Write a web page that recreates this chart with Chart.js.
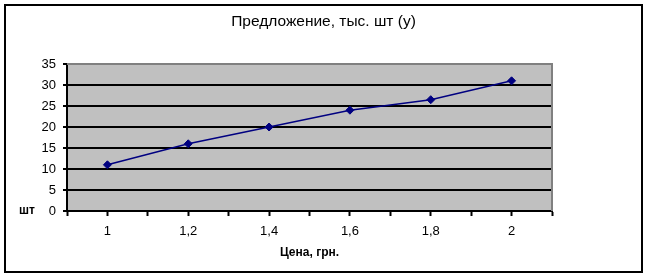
<!DOCTYPE html>
<html>
<head>
<meta charset="utf-8">
<script src="https://cdn.jsdelivr.net/npm/chart.js@4/dist/chart.umd.min.js"></script>
<style>
  html, body { margin: 0; padding: 0; background: #fff; }
  #wrap { width: 647px; height: 278px; }
</style>
</head>
<body>
<div id="wrap"><canvas id="chart" width="647" height="278"></canvas></div>
<script>
// Price (x categories) and supply values
const categories = ['1', '1,2', '1,4', '1,6', '1,8', '2']
const supply = [11, 16, 20, 24, 26.5, 31]
const yTicks = [0, 5, 10, 15, 20, 25, 30, 35]
const chartTitle = 'Предложение, тыс. шт (у)'

const FONT = "'Liberation Sans', Arial, sans-serif"

// frame around the whole chart, gray plot background, title centred on the page
const framePlugin = {
  id: 'frame',
  beforeDraw (chart) {
    const { ctx, chartArea: a } = chart
    ctx.save()
    ctx.fillStyle = '#fff'
    ctx.fillRect(0, 0, chart.width, chart.height)
    ctx.fillStyle = '#c0c0c0'
    ctx.fillRect(a.left, a.top, a.right - a.left, a.bottom - a.top)
    ctx.strokeStyle = '#000'
    ctx.lineWidth = 2
    ctx.strokeRect(5, 5, 637, 267)
    ctx.fillStyle = '#000'
    ctx.font = '15.5px ' + FONT
    ctx.textAlign = 'center'
    ctx.textBaseline = 'middle'
    ctx.fillText(chartTitle, chart.width / 2, 22)
    ctx.restore()
  },
  beforeDatasetsDraw (chart) {
    const { ctx, chartArea: a } = chart
    ctx.save()
    ctx.strokeStyle = '#808080'
    ctx.lineWidth = 2
    ctx.beginPath()
    ctx.moveTo(a.left, a.top)
    ctx.lineTo(a.right, a.top)
    ctx.lineTo(a.right, a.bottom)
    ctx.stroke()
    // leftover y-axis title squeezed near the origin
    ctx.fillStyle = '#000'
    ctx.font = 'bold 12px ' + FONT
    ctx.textBaseline = 'middle'
    ctx.fillText('шт', 19, a.bottom)
    ctx.restore()
  }
}

new Chart(document.getElementById('chart'), {
  type: 'line',
  data: {
    datasets: [{
      data: supply.map((v, i) => ({ x: i + 1, y: v })),
      borderColor: '#000080',
      backgroundColor: '#000080',
      borderWidth: 1.5,
      pointStyle: 'rectRot',
      pointRadius: 4,
      pointBorderWidth: 1,
      tension: 0
    }]
  },
  options: {
    responsive: false,
    animation: false,
    events: [],
    layout: { padding: { left: 0, right: 95, top: 64, bottom: 0 } },
    plugins: {
      legend: { display: false },
      tooltip: { enabled: false },
      title: { display: false }
    },
    scales: {
      x: {
        type: 'linear',
        min: 0.5,
        max: 6.5,
        afterBuildTicks (scale) {
          const t = []
          for (let i = 0; i <= 12; i++) t.push({ value: 0.5 + i * 0.5 })
          scale.ticks = t
        },
        afterFit (scale) { scale.height = 67 },
        ticks: {
          autoSkip: false,
          maxRotation: 0,
          padding: 8,
          color: '#000',
          font: { size: 13, family: FONT },
          callback: v => Number.isInteger(v) ? categories[v - 1] : ''
        },
        grid: {
          drawOnChartArea: false,
          tickLength: 5,
          tickColor: '#000',
          tickWidth: 2
        },
        border: { color: '#000', width: 2 },
        title: {
          display: true,
          text: 'Цена, грн.',
          color: '#000',
          font: { size: 12, family: FONT, weight: 'bold' },
          padding: { top: 0, bottom: 18 }
        }
      },
      y: {
        min: 0,
        max: 35,
        afterBuildTicks (scale) { scale.ticks = yTicks.map(v => ({ value: v })) },
        afterFit (scale) { scale.width = 67 },
        ticks: {
          padding: 7,
          color: '#000',
          font: { size: 13, family: FONT }
        },
        grid: {
          color: ctx => ctx.tick && ctx.tick.value === 35 ? '#808080' : '#000',
          lineWidth: 2,
          tickLength: 4,
          tickColor: '#000',
          tickWidth: 2
        },
        border: { color: '#000', width: 2 }
      }
    }
  },
  plugins: [framePlugin]
})
</script>
</body>
</html>
